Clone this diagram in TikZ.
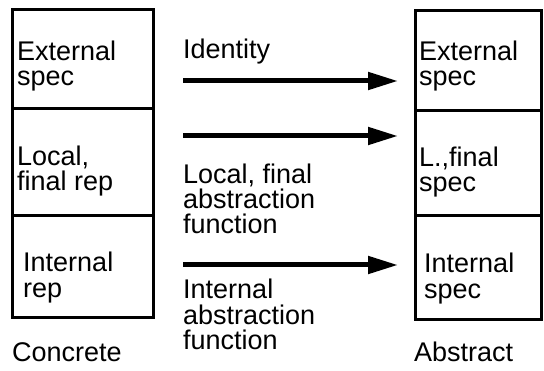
\documentclass[tikz,border=0pt]{standalone}
\usepackage{fontspec}
\setmainfont{Liberation Sans}
\usetikzlibrary{arrows.meta}
\tikzset{
  cell/.style={draw=black, line width=3pt, rectangle, inner sep=0pt},
  lbl/.style={anchor=base west, inner sep=0pt, align=left, font=\fontsize{27}{25}\selectfont},
  mapsto/.style={line width=5pt, -{Triangle[length=30pt,width=17pt]}},
}
\begin{document}
\begin{tikzpicture}[x=1pt,y=1pt]
\useasboundingbox (0,0) rectangle (544,370);
% concrete column
\draw[cell] (12,360) rectangle (153,261);
\draw[cell] (12,261) rectangle (153,154);
\draw[cell] (12,154) rectangle (153,53);
% abstract column
\draw[cell] (415,359) rectangle (541,259);
\draw[cell] (415,259) rectangle (541,154);
\draw[cell] (415,154) rectangle (541,51);
% labels left (anchor = baseline of last line)
\node[lbl] (le) at (17,284) {External\\spec};
\node[lbl] (ll) at (17,179) {Local,\\final rep};
\node[lbl] (li) at (23,73) {Internal\\rep};
\node[lbl] (conc) at (12,9) {Concrete};
% labels right
\node[lbl] (re) at (419,284) {External\\spec};
\node[lbl] (rl) at (419,178) {L.,final\\spec};
\node[lbl] (ri) at (424,72) {Internal\\spec};
\node[lbl] (abs) at (414,9) {Abstract};
% arrow labels
\node[lbl] (id) at (183,311) {Identity};
\node[lbl] (lf) at (183,136) {Local, final\\abstraction\\function};
\node[lbl] (if) at (183,21) {Internal\\abstraction\\function};
% arrows
\coordinate (a1s) at (183,289); \coordinate (a1e) at (398,289);
\coordinate (a2s) at (183,234); \coordinate (a2e) at (398,234);
\coordinate (a3s) at (183,105); \coordinate (a3e) at (398,105);
\draw[mapsto] (a1s) -- (a1e);
\draw[mapsto] (a2s) -- (a2e);
\draw[mapsto] (a3s) -- (a3e);
\end{tikzpicture}
\end{document}
